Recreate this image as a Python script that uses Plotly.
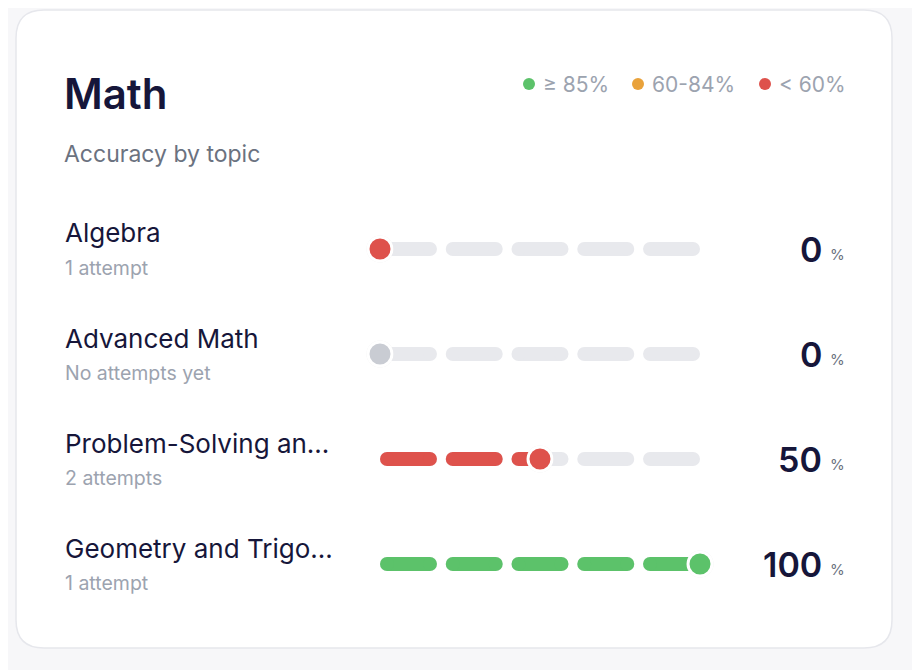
import plotly.graph_objects as go

title = "Math"
subtitle = "Accuracy by topic"
topics = ["Algebra", "Advanced Math", "Problem-Solving an...", "Geometry and Trigo..."]
attempt_labels = ["1 attempt", "No attempts yet", "2 attempts", "1 attempt"]
attempts = [1, 0, 2, 1]
values = [0, 0, 50, 100]
legend_labels = ["≥ 85%", "60-84%", "< 60%"]
legend_colors = ["#5cc26a", "#e9a23b", "#de524c"]

W, H = 920, 670
OFF = 8                        # page body offset
X0PX, PXU = 380 - OFF, 3.2     # x=0 at 380px, 3.2 px per unit
ROW0, ROWH = 249 - OFF, 105
GREEN, ORANGE, RED, GRAY, TRACK = "#5cc26a", "#e9a23b", "#de524c", "#c9ccd3", "#e8e9ed"
DARK, MUTED, LIGHT = "#16163a", "#6b7280", "#9ca3af"

def px(x): return (x - OFF) / W
def py(y): return 1 - (y - OFF) / H

fig = go.Figure()
seg_w, gap = 17.8, 2.75
r = 7 / PXU
segs = [(i * (seg_w + gap), i * (seg_w + gap) + seg_w) for i in range(5)]

def note(x, y, text, size, color, anchor="left", weight="normal"):
    fig.add_annotation(x=px(x), y=py(y), xref="paper", yref="paper", text=text, showarrow=False,
                       xanchor=anchor, yanchor="middle",
                       font=dict(size=size, color=color, weight=weight))

for i, v in enumerate(values):
    col = GREEN if v >= 85 else ORANGE if v >= 60 else RED
    if attempts[i] == 0:
        col = GRAY
    tx, ty, fx, fy = [], [], [], []
    for a, b in segs:
        tx += [a + r, b - r, None]; ty += [i, i, None]
        if attempts[i] and v > a:
            e = min(b, v)
            fx += [a + r, max(a + r, e - r), None]; fy += [i, i, None]
    fig.add_trace(go.Scatter(x=tx, y=ty, mode="lines+markers", line=dict(color=TRACK, width=14),
                             marker=dict(size=14, color=TRACK), hoverinfo="skip"))
    if fx:
        fig.add_trace(go.Scatter(x=fx, y=fy, mode="lines+markers", line=dict(color=col, width=14),
                                 marker=dict(size=14, color=col), hoverinfo="skip"))
    fig.add_trace(go.Scatter(x=[v], y=[i], mode="markers",
                             marker=dict(size=27, color="rgba(0,0,0,0.07)"), hoverinfo="skip"))
    fig.add_trace(go.Scatter(x=[v], y=[i], mode="markers",
                             marker=dict(size=24, color=col, line=dict(color="white", width=3)),
                             hoverinfo="skip"))
    yrow = 249 + ROWH * i
    note(63, yrow - 16, topics[i], 26, DARK)
    note(63, yrow + 19, attempt_labels[i], 19.5, LIGHT)
    note(824, yrow, v, 34, DARK, "right", 600)
    note(828, yrow + 5, "%", 15, MUTED)

note(62, 93, title, 42, DARK, weight=600)
note(62, 154, subtitle, 23, MUTED)

lx = [529, 638, 765]
for c, lab, x in zip(legend_colors, legend_labels, lx):
    fig.add_shape(type="circle", xref="paper", yref="paper", x0=px(x - 6), x1=px(x + 6),
                  y0=py(90), y1=py(78), fillcolor=c, line=dict(width=0))
    note(x + 12, 84, lab, 21, LIGHT)

# card
x0, x1, y0, y1, rr = px(16), px(892), py(648), py(10), 28
rx, ry = rr / W, rr / H
path = (f"M {x0+rx},{y0} L {x1-rx},{y0} Q {x1},{y0} {x1},{y0+ry} L {x1},{y1-ry} Q {x1},{y1} {x1-rx},{y1} "
        f"L {x0+rx},{y1} Q {x0},{y1} {x0},{y1-ry} L {x0},{y0+ry} Q {x0},{y0} {x0+rx},{y0} Z")
fig.add_shape(type="path", path=path, xref="paper", yref="paper", fillcolor="white",
              line=dict(color="#e6e7ec", width=1.5), layer="below")

fig.update_layout(
    width=W, height=H, margin=dict(l=0, r=0, t=0, b=0), showlegend=False,
    paper_bgcolor="#f7f7f9", plot_bgcolor="rgba(0,0,0,0)",
    font=dict(family="Inter, sans-serif"),
    xaxis=dict(range=[-X0PX / PXU, (W - X0PX) / PXU], visible=False, fixedrange=True),
    yaxis=dict(range=[(H - ROW0) / ROWH, -ROW0 / ROWH], visible=False, fixedrange=True),
)
fig.write_html("out.html")
